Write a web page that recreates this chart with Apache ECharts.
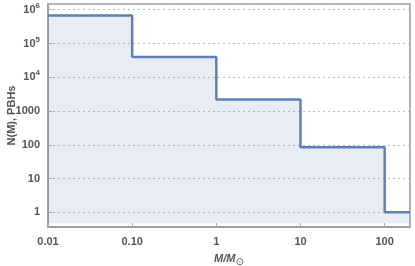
<!DOCTYPE html>
<html><head><meta charset="utf-8">
<script src="https://cdn.jsdelivr.net/npm/echarts@6/dist/echarts.min.js"></script>
<style>html,body{margin:0;padding:0;background:#fff}#c{width:415px;height:266px}</style>
</head><body><div id="c"></div>
<script>
// bin left edges (solar masses) and PBH counts per bin
var binEdges = [0.01, 0.1, 1, 10, 100, 200];
var counts = [680000, 40000, 2200, 85, 1];
var xTickLabels = {0.01: '0.01', 0.1: '0.10', 1: '1', 10: '10', 100: '100'};
var yTickLabels = {1: '1', 10: '10', 100: '100', 1000: '1000', 10000: '10{s|4}', 100000: '10{s|5}', 1000000: '10{s|6}'};

var data = [];
for (var i = 0; i < counts.length; i++) data.push([binEdges[i], counts[i]]);
data.push([binEdges[binEdges.length - 1], counts[counts.length - 1]]);

function near(v, obj) {
  for (var k in obj) { if (Math.abs(Math.log10(v) - Math.log10(+k)) < 1e-6) return obj[k]; }
  return '';
}
var labCol = '#555555';
var ff = 'Liberation Sans, Arial';
var chart = echarts.init(document.getElementById('c'), null, {renderer: 'canvas'});
chart.setOption({
  animation: false,
  grid: {left: 48, right: 5, top: 4, bottom: 39, show: true, borderColor: '#999', borderWidth: 1.5,
    containLabel: false, outerBoundsMode: 'none'},
  xAxis: [{
    type: 'log', logBase: 10, min: 0.01, max: 200,
    axisLine: {show: true, lineStyle: {color: '#999', width: 1.5}},
    axisTick: {show: true, inside: true, length: 4, lineStyle: {color: '#aaa'}},
    splitLine: {show: false},
    axisLabel: {color: labCol, fontFamily: ff, fontSize: 11, fontWeight: 'bold', margin: 9,
      showMaxLabel: false,
      formatter: function (v) { return near(v, xTickLabels); }},
    name: '{i|M}{n|/}{i|M}{o|⊙}', nameLocation: 'middle', nameGap: 24, nameMoveOverlap: false,
    nameTextStyle: {rich: {
      i: {fontStyle: 'italic', fontWeight: 'bold', fontSize: 11, color: labCol, fontFamily: ff},
      n: {fontStyle: 'italic', fontWeight: 'bold', fontSize: 11, color: labCol, fontFamily: ff},
      o: {fontSize: 10, color: labCol, verticalAlign: 'bottom', padding: [6, 0, 0, 0], fontFamily: 'DejaVu Sans'}
    }}
  }],
  yAxis: [{
    type: 'log', logBase: 10, min: 0.366, max: 1.48e6,
    axisLine: {show: true, lineStyle: {color: '#999', width: 1.5}},
    axisTick: {show: true, inside: true, length: 4, lineStyle: {color: '#aaa'}},
    splitLine: {show: true, lineStyle: {color: '#bbb', type: [2, 3], width: 1}},
    axisLabel: {color: labCol, fontFamily: ff, fontSize: 11, fontWeight: 'bold', margin: 8,
      showMinLabel: false, showMaxLabel: false,
      formatter: function (v) { return near(v, yTickLabels); },
      rich: {s: {fontSize: 8, fontWeight: 'bold', color: labCol, verticalAlign: 'top', padding: [0, 0, 8, 0], fontFamily: ff}}},
    name: 'N(M), PBHs', nameLocation: 'middle', nameGap: 36, nameRotate: 90, nameMoveOverlap: false,
    nameTextStyle: {color: labCol, fontFamily: ff, fontSize: 11, fontWeight: 'bold', verticalAlign: 'middle'}
  }],
  series: [{
    type: 'line', step: 'end', data: data, symbol: 'none',
    lineStyle: {color: '#5e81b5', width: 2.5},
    areaStyle: {color: 'rgba(94,129,181,0.2)', origin: 0.47},
    z: 3
  }]
});
</script></body></html>
